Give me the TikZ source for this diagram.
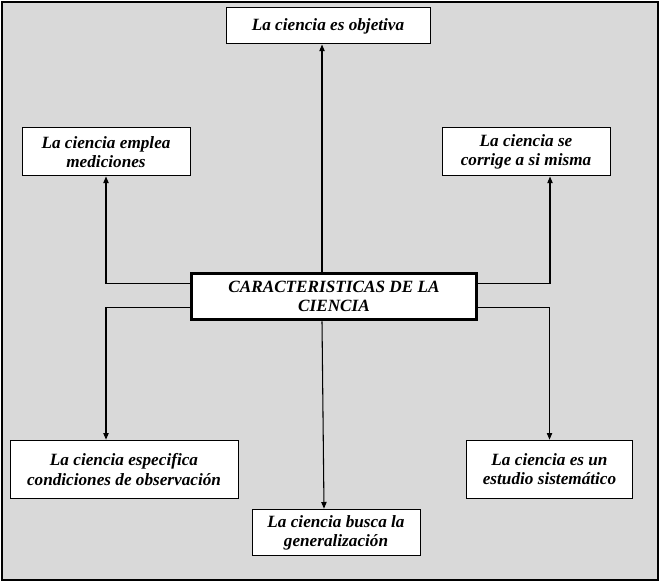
\documentclass[tikz,border=0pt]{standalone}
\usepackage{fontspec}
\setmainfont{Liberation Serif}
\usetikzlibrary{arrows.meta}

\definecolor{fondo}{RGB}{217,217,217}

\tikzset{
  caja/.style={draw, fill=white, line width=0.75pt, inner sep=0pt, align=center,
    font=\bfseries\itshape\fontsize{12.9}{14.4}\selectfont},
  cajacentral/.style={caja, line width=2.4pt},
  flecha/.style={-{Triangle[length=5pt,width=4pt]}, line width=0.8pt}
}

\begin{document}
\begin{tikzpicture}[x=0.75pt,y=0.75pt,yscale=-1,xscale=1]
\useasboundingbox (0,0) rectangle (660,584);

%Fondo
\draw [fill=fondo, line width=1.2pt] (2,2) rectangle (658,580);

% Nodos
\node [caja, minimum width=153pt, minimum height=27pt] (obj) at (328,26) {La ciencia es objetiva};
\node [caja, minimum width=126pt, minimum height=36pt] (med) at (106,152) {La ciencia emplea\\mediciones};
\node [caja, minimum width=126pt, minimum height=36pt] (corr) at (526,152) {La ciencia se\\corrige a si misma};
\node [cajacentral, minimum width=214pt, minimum height=35pt] (carac) at (334,296.5) {CARACTERISTICAS DE LA\\CIENCIA};
\node [caja, minimum width=171pt, minimum height=44pt] (espec) at (124,469.5) {La ciencia especifica\\condiciones de observación};
\node [caja, minimum width=125pt, minimum height=44pt] (sist) at (549.5,469.5) {La ciencia es un\\estudio sistemático};
\node [caja, minimum width=126pt, minimum height=35pt] (gen) at (336,532.5) {La ciencia busca la\\generalización};

% Conectores
\draw [flecha] ([xshift=-9pt]carac.north) -- ([xshift=-4.5pt]obj.south);
\draw [flecha] ([yshift=-9.4pt]carac.west) -| (med.south);
\draw [flecha] ([yshift=-9.4pt]carac.east) -| ([xshift=18pt]corr.south);
\draw [flecha] ([yshift=8.6pt]carac.west) -| ([xshift=-13.5pt]espec.north);
\draw [flecha] ([yshift=8.6pt]carac.east) -| (sist.north);
\draw [flecha] ([xshift=-9pt]carac.south) -- ([xshift=-9pt]gen.north);

\end{tikzpicture}
\end{document}
